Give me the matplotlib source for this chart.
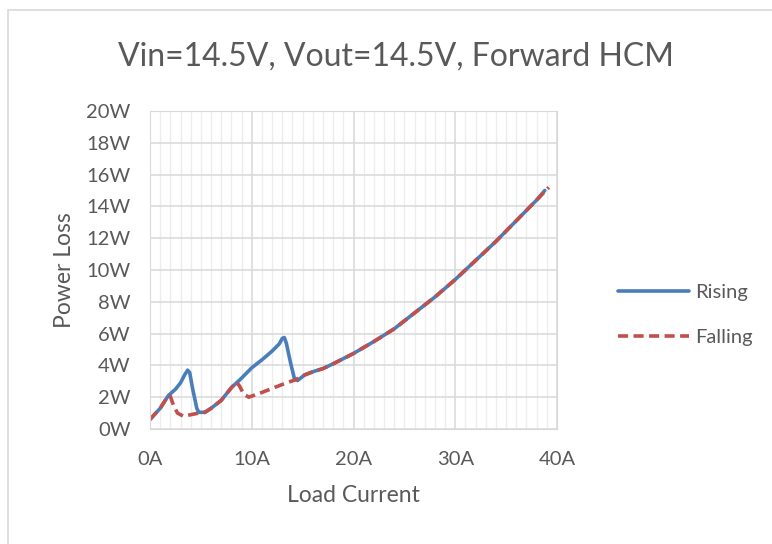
import matplotlib.pyplot as plt
from matplotlib.patches import Rectangle
from matplotlib.ticker import MultipleLocator, FuncFormatter

plt.rcParams['font.family'] = ['Lato', 'DejaVu Sans']

rising_x = [0, 1, 1.8, 2.5, 3.0, 3.4, 3.7, 3.9, 4.2, 4.6, 4.8, 5.4, 6, 7, 8, 9, 10, 11, 12,
            12.7, 13.0, 13.2, 13.4, 13.8, 14.2, 14.5, 15.2, 16, 17, 18, 20, 22, 24, 26, 28,
            30, 32, 34, 36, 38, 38.8]
rising_y = [0.6, 1.3, 2.1, 2.5, 2.9, 3.4, 3.7, 3.55, 2.5, 1.3, 1.05, 1.05, 1.3, 1.8, 2.6, 3.2,
            3.85, 4.35, 4.9, 5.35, 5.7, 5.75, 5.4, 4.2, 3.15, 3.05, 3.4, 3.6, 3.8, 4.1, 4.75,
            5.5, 6.3, 7.3, 8.3, 9.4, 10.6, 11.8, 13.1, 14.4, 15.0]

falling_x = [0, 1, 1.8, 2.0, 2.3, 2.7, 3.3, 4.0, 4.8, 5.4, 6, 7, 8, 8.5, 8.8, 9.2, 9.7, 11,
             12, 13, 14.3, 15.2, 16, 17, 18, 20, 22, 24, 26, 28, 30, 32, 34, 36, 38, 39.2]
falling_y = [0.6, 1.3, 2.1, 2.05, 1.5, 1.0, 0.8, 0.9, 1.0, 1.05, 1.3, 1.8, 2.6, 2.95, 2.7,
             2.2, 2.0, 2.3, 2.55, 2.8, 3.1, 3.4, 3.6, 3.8, 4.1, 4.75, 5.5, 6.3, 7.3, 8.3,
             9.4, 10.6, 11.8, 13.1, 14.4, 15.2]

fig = plt.figure(figsize=(7.72, 5.44), dpi=100)
fig.patches.append(Rectangle((8 / 772, -0.1), 1.2, 1 - 10 / 544 + 0.1, transform=fig.transFigure,
                             fill=False, edgecolor='#D9D9D9', lw=1.2))

ax = fig.add_axes([150 / 772, 1 - 429 / 544, 407 / 772, 318 / 544])

ax.plot(rising_x, rising_y, color='#4A7EBB', lw=2.6, label='Rising', solid_capstyle='round')
ax.plot(falling_x, falling_y, color='#C0504D', lw=2.6, ls=(0, (2.8, 1.5)), label='Falling')

ax.set_xlim(0, 40)
ax.set_ylim(0, 20)
ax.xaxis.set_major_locator(MultipleLocator(10))
ax.xaxis.set_minor_locator(MultipleLocator(1))
ax.yaxis.set_major_locator(MultipleLocator(2))
ax.xaxis.set_major_formatter(FuncFormatter(lambda v, p: f'{v:.0f}A'))
ax.yaxis.set_major_formatter(FuncFormatter(lambda v, p: f'{v:.0f}W'))
ax.grid(which='major', color='#D9D9D9', lw=1.1)
ax.grid(which='minor', axis='x', color='#EDEDED', lw=1.0)
ax.set_axisbelow(True)
ax.tick_params(which='both', length=0, colors='#595959', labelsize=14.5)
ax.tick_params(axis='x', pad=16)
ax.tick_params(axis='y', pad=14)
for s in ax.spines.values():
    s.set_color('#D9D9D9')

ax.set_xlabel('Load Current', fontsize=16.5, color='#595959', labelpad=12)
ax.set_ylabel('Power Loss', fontsize=16.5, color='#595959', labelpad=8)
fig.text(396 / 772, 1 - 57 / 544, 'Vin=14.5V, Vout=14.5V, Forward HCM', fontsize=23,
         color='#595959', ha='center', va='center')

ax.legend(loc='center left', bbox_to_anchor=(600 / 772, 1 - 315 / 544),
          bbox_transform=fig.transFigure, frameon=False, fontsize=14.5, labelcolor='#595959',
          handlelength=3.5, handletextpad=0.3, labelspacing=1.35)

fig.savefig('out.png', dpi=100)
